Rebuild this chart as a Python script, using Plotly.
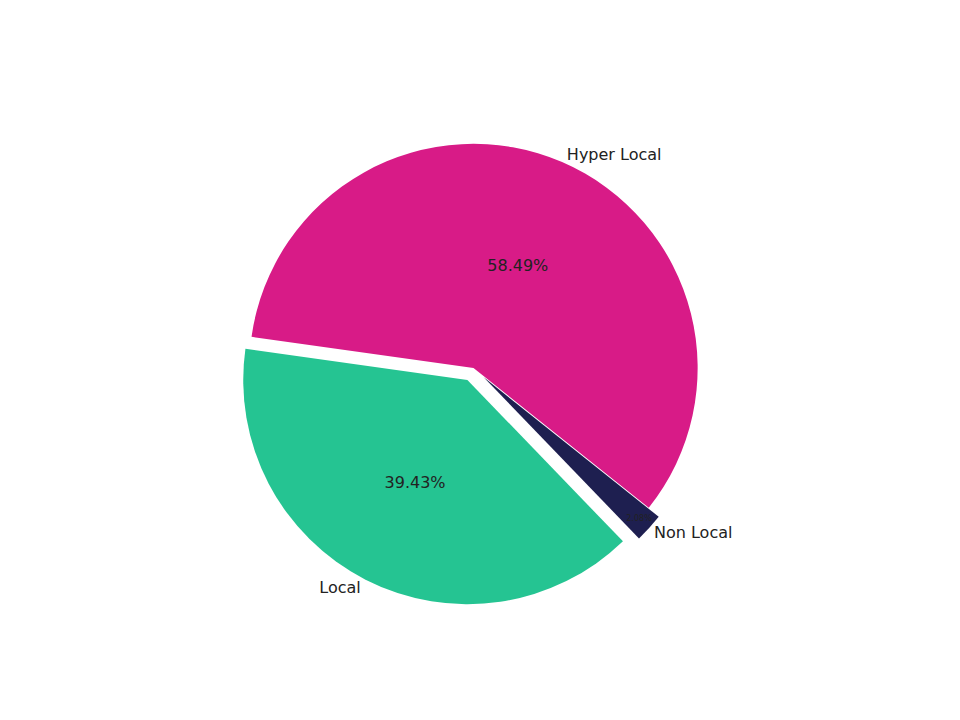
import plotly.graph_objects as go

labels = ["Hyper Local", "Local", "Non Local"]
values = [58.49, 39.43, 2.08]
colors = ["#D81B87", "#25C492", "#1E1F50"]
pulls = [0, 0.06, 0.06]

dom = dict(x=[0.0, 1.0], y=[0.17, 0.83])
fig = go.Figure()
fig.add_trace(go.Pie(labels=labels, values=values, sort=False, direction="counterclockwise",
                     rotation=-82, pull=pulls, marker=dict(colors=colors),
                     texttemplate="%{percent:.2%}", textposition="inside", insidetextorientation="horizontal",
                     textfont=dict(color="#222222", size=16), domain=dom, hoverinfo="skip"))
fig.add_trace(go.Pie(labels=labels, values=values, sort=False, direction="counterclockwise",
                     rotation=-82, pull=pulls, marker=dict(colors=["rgba(0,0,0,0)"]*3),
                     texttemplate="%{label}", textposition="outside",
                     textfont=dict(color="#222222", size=16), domain=dom, hoverinfo="skip"))
fig.update_layout(width=960, height=720, showlegend=False, paper_bgcolor="white",
                  font=dict(family="DejaVu Sans"), margin=dict(l=0, r=0, t=0, b=0))
fig.write_html("out.html")
